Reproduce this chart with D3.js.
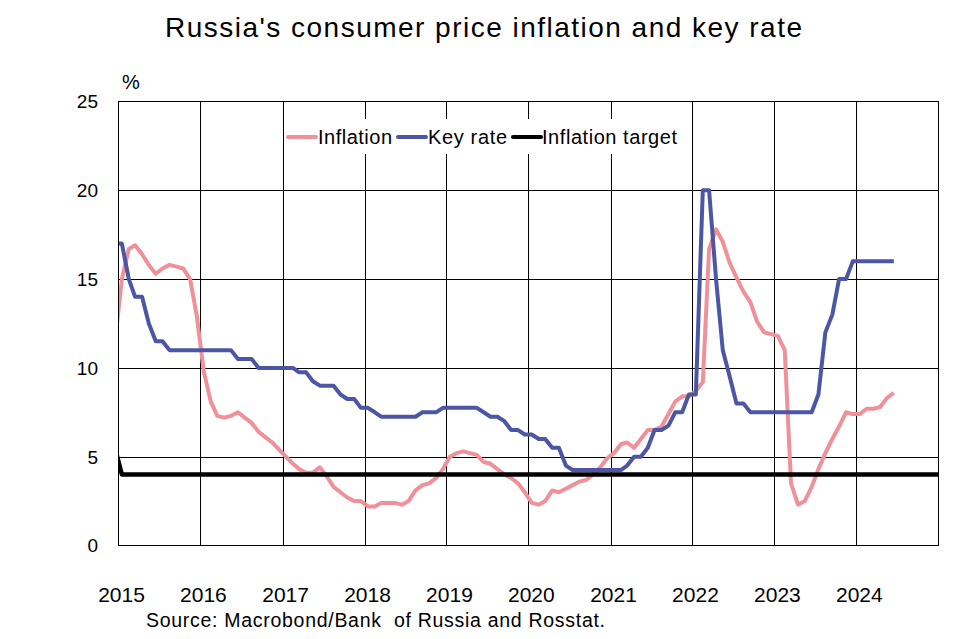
<!DOCTYPE html>
<html>
<head>
<meta charset="utf-8">
<script src="https://cdn.jsdelivr.net/npm/d3@7"></script>
<style>
  body { margin: 0; background: #fff; }
  svg { display: block; font-family: "Liberation Sans", Arial, sans-serif; }
</style>
</head>
<body>
<div id="chart"></div>
<script>
"use strict";

// monthly series, first value is Dec 2014
var firstMonth = [2014, 11];

var inflation = [
  11.4,
  15.0, 16.7, 16.9, 16.4, 15.8, 15.3, 15.6, 15.8, 15.7, 15.6, 15.0, 12.9,
  9.8, 8.1, 7.3, 7.2, 7.3, 7.5, 7.2, 6.9, 6.4, 6.1, 5.8, 5.4,
  5.0, 4.6, 4.3, 4.1, 4.1, 4.4, 3.9, 3.3, 3.0, 2.7, 2.5, 2.5,
  2.2, 2.2, 2.4, 2.4, 2.4, 2.3, 2.5, 3.1, 3.4, 3.5, 3.8, 4.3,
  5.0, 5.2, 5.3, 5.2, 5.1, 4.7, 4.6, 4.3, 4.0, 3.8, 3.5, 3.0,
  2.4, 2.3, 2.5, 3.1, 3.0, 3.2, 3.4, 3.6, 3.7, 4.0, 4.4, 4.9,
  5.2, 5.7, 5.8, 5.5, 6.0, 6.5, 6.5, 6.7, 7.4, 8.1, 8.4, 8.4,
  8.7, 9.2, 16.7, 17.8, 17.1, 15.9, 15.1, 14.3, 13.7, 12.6, 12.0, 11.9,
  11.8, 11.0, 3.5, 2.3, 2.5, 3.3, 4.3, 5.2, 6.0, 6.7, 7.5, 7.4,
  7.4, 7.7, 7.7, 7.8, 8.3, 8.6
];

var keyRate = [
  17,
  17, 15, 14, 14, 12.5, 11.5, 11.5, 11, 11, 11, 11, 11,
  11, 11, 11, 11, 11, 10.5, 10.5, 10.5, 10, 10, 10, 10,
  10, 10, 9.75, 9.75, 9.25, 9, 9, 9, 8.5, 8.25, 8.25, 7.75,
  7.75, 7.5, 7.25, 7.25, 7.25, 7.25, 7.25, 7.25, 7.5, 7.5, 7.5, 7.75,
  7.75, 7.75, 7.75, 7.75, 7.75, 7.5, 7.25, 7.25, 7.0, 6.5, 6.5, 6.25,
  6.25, 6.0, 6.0, 5.5, 5.5, 4.5, 4.25, 4.25, 4.25, 4.25, 4.25, 4.25,
  4.25, 4.25, 4.5, 5.0, 5.0, 5.5, 6.5, 6.5, 6.75, 7.5, 7.5, 8.5,
  8.5, 20, 20, 15, 11, 9.5, 8, 8, 7.5, 7.5, 7.5, 7.5,
  7.5, 7.5, 7.5, 7.5, 7.5, 7.5, 8.5, 12, 13, 15, 15, 16,
  16, 16, 16, 16, 16, 16
];

// inflation target: month offsets from firstMonth and values
var targetMonths = [0, 1, 121];
var targetValues = [5.5, 4, 4];

var years = [2015, 2016, 2017, 2018, 2019, 2020, 2021, 2022, 2023, 2024];
var yTicks = [0, 5, 10, 15, 20, 25];

var seriesNames = ["Inflation", "Key rate", "Inflation target"];
var seriesColors = ["#f0919a", "#4b56a5", "#000000"];

var W = 977, H = 639;
var plotL = 118.5, plotR = 938.5, plotT = 101.5, plotB = 545.5;

function monthDate(i) {
  return new Date(firstMonth[0], firstMonth[1] + i, 16);
}

var x = d3.scaleTime()
  .domain([new Date(2015, 0, 1), new Date(2025, 0, 1)])
  .range([plotL, plotR]);

var y = d3.scaleLinear().domain([0, 25]).range([plotB, plotT]);

var svg = d3.select("#chart").append("svg")
  .attr("width", W)
  .attr("height", H);

svg.append("text")
  .attr("x", 483.5)
  .attr("y", 37)
  .attr("text-anchor", "middle")
  .attr("font-size", 28)
  .attr("textLength", 637)
  .attr("lengthAdjust", "spacing")
  .text("Russia's consumer price inflation and key rate");

svg.append("text")
  .attr("x", 122)
  .attr("y", 89)
  .attr("font-size", 20)
  .text("%");

svg.append("clipPath").attr("id", "plot-clip")
  .append("rect")
  .attr("x", plotL).attr("y", plotT)
  .attr("width", plotR - plotL).attr("height", plotB - plotT);

// grid
var grid = svg.append("g").attr("stroke", "#000").attr("stroke-width", 1);

grid.selectAll(".vgrid")
  .data(years.slice(1))
  .enter().append("line")
  .attr("class", "vgrid")
  .attr("x1", function(d) { return Math.round(x(new Date(d, 0, 1))) + 0.5; })
  .attr("x2", function(d) { return Math.round(x(new Date(d, 0, 1))) + 0.5; })
  .attr("y1", plotT)
  .attr("y2", plotB);

grid.selectAll(".hgrid")
  .data(yTicks.slice(1, -1))
  .enter().append("line")
  .attr("class", "hgrid")
  .attr("x1", plotL)
  .attr("x2", plotR)
  .attr("y1", function(d) { return Math.round(y(d)) + 0.5; })
  .attr("y2", function(d) { return Math.round(y(d)) + 0.5; });

// axis labels
svg.append("g").selectAll("text")
  .data(yTicks)
  .enter().append("text")
  .attr("x", 98)
  .attr("y", function(d) { return y(d); })
  .attr("dy", "0.36em")
  .attr("text-anchor", "end")
  .attr("font-size", 19)
  .text(function(d) { return d; });

svg.append("g").selectAll("text")
  .data(years)
  .enter().append("text")
  .attr("x", function(d) { return x(new Date(d, 0, 1)) + 3; })
  .attr("y", 601.5)
  .attr("text-anchor", "middle")
  .attr("font-size", 21)
  .text(function(d) { return d; });

// lines
var line = d3.line()
  .x(function(d) { return x(d.date); })
  .y(function(d) { return y(d.value); });

var series = [
  inflation.map(function(v, i) { return { date: monthDate(i), value: v }; }),
  keyRate.map(function(v, i) { return { date: monthDate(i), value: v }; }),
  targetMonths.map(function(m, i) { return { date: monthDate(m), value: targetValues[i] }; })
];

svg.append("g")
  .attr("clip-path", "url(#plot-clip)")
  .selectAll("path")
  .data(series)
  .enter().append("path")
  .attr("fill", "none")
  .attr("stroke", function(d, i) { return seriesColors[i]; })
  .attr("stroke-width", function(d, i) { return i === 2 ? 4.5 : 4; })
  .attr("stroke-linejoin", "round")
  .attr("d", line);

// frame
svg.append("rect")
  .attr("x", plotL).attr("y", plotT)
  .attr("width", plotR - plotL).attr("height", plotB - plotT)
  .attr("fill", "none")
  .attr("stroke", "#000");

// legend
var legend = svg.append("g");
legend.append("rect")
  .attr("x", 284).attr("y", 119)
  .attr("width", 404).attr("height", 35)
  .attr("fill", "#fff");

var legendLineX = [288, 398, 513];
var legendTextX = [318, 428, 542];
var legendTextW = [74, 79, 135];

legend.selectAll("line")
  .data(seriesNames)
  .enter().append("line")
  .attr("x1", function(d, i) { return legendLineX[i]; })
  .attr("x2", function(d, i) { return legendLineX[i] + 28; })
  .attr("y1", 137)
  .attr("y2", 137)
  .attr("stroke", function(d, i) { return seriesColors[i]; })
  .attr("stroke-width", 4)
  .attr("stroke-linecap", "round");

legend.selectAll("text")
  .data(seriesNames)
  .enter().append("text")
  .attr("x", function(d, i) { return legendTextX[i]; })
  .attr("y", 144.3)
  .attr("font-size", 20)
  .attr("textLength", function(d, i) { return legendTextW[i]; })
  .attr("lengthAdjust", "spacing")
  .text(function(d) { return d; });

svg.append("text")
  .attr("x", 146)
  .attr("y", 627.3)
  .attr("font-size", 19.5)
  .attr("textLength", 459)
  .attr("lengthAdjust", "spacing")
  .style("white-space", "pre")
  .text("Source: Macrobond/Bank  of Russia and Rosstat.");
</script>
</body>
</html>
